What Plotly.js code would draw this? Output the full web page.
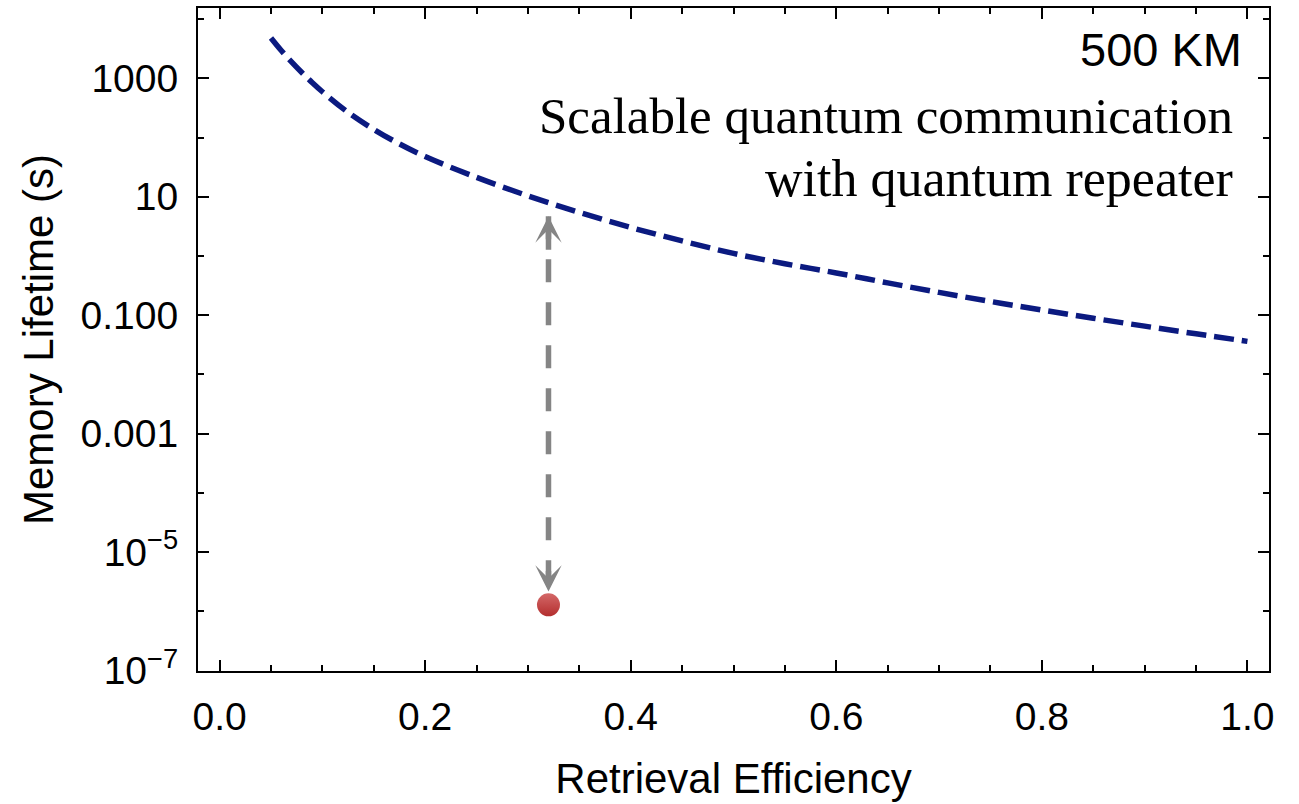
<!DOCTYPE html>
<html>
<head>
<meta charset="utf-8">
<script src="https://cdn.plot.ly/plotly-3.0.1.min.js"></script>
<style>html,body{margin:0;padding:0;background:#fff;}#chart{width:1299px;height:804px;}</style>
</head>
<body>
<div id="chart"></div>
<script>
// Curve: memory lifetime required vs retrieval efficiency (500 km)
const efficiency = [0.05, 0.06, 0.07, 0.08, 0.09, 0.10, 0.125, 0.15, 0.175, 0.20, 0.25, 0.30, 0.35, 0.40, 0.45, 0.50, 0.55, 0.60, 0.65, 0.70, 0.75, 0.80, 0.85, 0.90, 0.95, 1.00];
const lifetime   = [4830, 2970, 1905, 1259, 853, 596, 267, 138, 78.3, 48.1, 21.3, 10.4, 5.45, 3.04, 1.80, 1.107, 0.741, 0.518, 0.352, 0.243, 0.171, 0.1224, 0.0889, 0.0654, 0.0485, 0.0362];

// Experimental point and arrow between point and curve
const pointEff = [0.32];
const pointLife = [1.28e-6];
const arrowEff = [0.32, 0.32];
const arrowLife = [4.7, 2.15e-6];

// Tick labels
const yTickVals = [1000, 10, 0.1, 0.001, 1e-5, 1e-7];
const yTickText = ['1000', '10', '0.100', '0.001', '10<sup>\u22125</sup>', '10<sup>\u22127</sup>'];
const yMinorVals = [1e4, 100, 1, 0.01, 1e-4, 1e-6];
const xTickVals = [0.0, 0.2, 0.4, 0.6, 0.8, 1.0];
const xTickText = ['0.0', '0.2', '0.4', '0.6', '0.8', '1.0'];

const labelTitle = '500 KM';
const noteLines = ['Scalable quantum communication', 'with quantum repeater'];

const sans = 'Liberation Sans, Arial, sans-serif';
const serif = 'Liberation Serif, Times New Roman, serif';

const traces = [
  {
    x: efficiency, y: lifetime, type: 'scatter', mode: 'lines',
    line: {color: '#0b1a80', width: 5.5, dash: '20px,8px', shape: 'spline', smoothing: 1},
    hoverinfo: 'x+y', showlegend: false
  },
  {
    x: arrowEff, y: arrowLife, type: 'scatter', mode: 'lines',
    line: {color: '#858585', width: 5.5, dash: '23px,20px'},
    hoverinfo: 'skip', showlegend: false
  },
  {
    x: pointEff, y: pointLife, type: 'scatter', mode: 'markers',
    marker: {size: 23, color: '#d46868', gradient: {type: 'vertical', color: '#b32e2e'}, line: {width: 0}},
    showlegend: false
  }
];

const axisCommon = {
  showline: true, linecolor: '#000', linewidth: 2, mirror: 'ticks',
  ticks: 'inside', ticklen: 11, tickwidth: 2, tickcolor: '#000',
  showgrid: false, zeroline: false,
  tickfont: {family: sans, size: 39, color: '#000'}
};

const layout = {
  width: 1299, height: 804,
  margin: {l: 198, r: 30, t: 8, b: 133},
  paper_bgcolor: '#fff', plot_bgcolor: '#fff',
  xaxis: Object.assign({}, axisCommon, {
    range: [-0.021, 1.021],
    tickmode: 'array', tickvals: xTickVals, ticktext: xTickText,
    ticklabelstandoff: 10,
    minor: {dtick: 0.05, ticks: 'inside', ticklen: 6, tickwidth: 2, tickcolor: '#000', showgrid: false},
    title: {text: 'Retrieval Efficiency', font: {family: sans, size: 42, color: '#000'}, standoff: 27}
  }),
  yaxis: Object.assign({}, axisCommon, {
    type: 'log', range: [-7.01, 4.19],
    tickmode: 'array', tickvals: yTickVals, ticktext: yTickText,
    ticklabelstandoff: 10,
    minor: {tickmode: 'array', tickvals: yMinorVals, ticks: 'inside', ticklen: 6, tickwidth: 2, tickcolor: '#000', showgrid: false},
    title: {text: 'Memory Lifetime (s)', font: {family: sans, size: 42, color: '#000'}, standoff: 14}
  }),
  annotations: [
    {xref: 'paper', yref: 'paper', x: 0.9767, y: 0.938, xanchor: 'right', yanchor: 'middle',
     text: labelTitle, showarrow: false, font: {family: sans, size: 47, color: '#000'}},
    {xref: 'paper', yref: 'paper', x: 0.9685, y: 0.837, xanchor: 'right', yanchor: 'middle',
     text: noteLines[0], showarrow: false, font: {family: serif, size: 51, color: '#000'}},
    {xref: 'paper', yref: 'paper', x: 0.9685, y: 0.7435, xanchor: 'right', yanchor: 'middle',
     text: noteLines[1], showarrow: false, font: {family: serif, size: 52, color: '#000'}},
    {xref: 'x', yref: 'y', x: arrowEff[0], y: Math.log10(arrowLife[0]), ax: 0, ay: 35, text: '',
     showarrow: true, arrowhead: 3, arrowsize: 0.8, arrowwidth: 5.5, arrowcolor: '#858585'},
    {xref: 'x', yref: 'y', x: arrowEff[1], y: Math.log10(arrowLife[1]), ax: 0, ay: -22, text: '',
     showarrow: true, arrowhead: 3, arrowsize: 0.8, arrowwidth: 5.5, arrowcolor: '#858585'}
  ]
};

Plotly.newPlot('chart', traces, layout, {displayModeBar: false, staticPlot: true});
</script>
</body>
</html>
